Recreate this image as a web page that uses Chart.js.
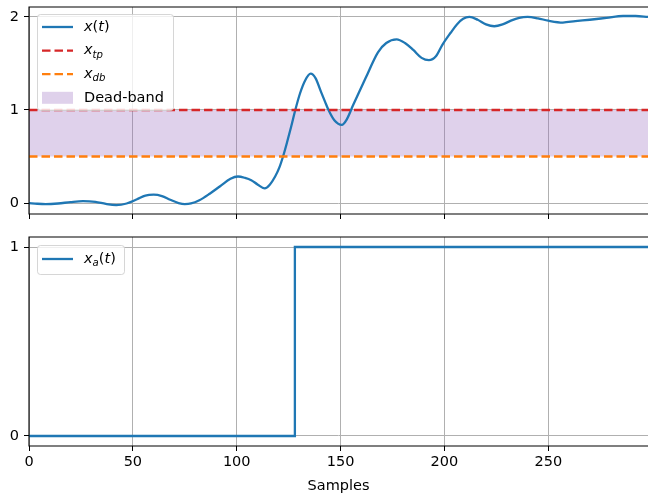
<!DOCTYPE html>
<html>
<head>
<meta charset="utf-8">
<script src="https://cdn.jsdelivr.net/npm/chart.js@4"></script>
<style>
  body { margin: 0; background: #fff; }
  .panel { position: absolute; left: 0; width: 648px; }
  #top-panel { top: 0; height: 230px; }
  #bottom-panel { top: 230px; height: 269px; }
</style>
</head>
<body>
<div class="panel" id="top-panel"><canvas id="top-chart" width="648" height="230"></canvas></div>
<div class="panel" id="bottom-panel"><canvas id="bottom-chart" width="648" height="269"></canvas></div>
<script>
// Data
const xMax = 298;
const sampleTicks = [0, 50, 100, 150, 200, 250];
const topYTicks = [0, 1, 2];
const bottomYTicks = [0, 1];

const xtSamples = [0, 4, 8, 14, 20, 26, 32, 37, 42, 47, 52, 56, 60, 64, 68, 72, 75, 78, 82, 87,
    92, 97, 100.6, 104, 107, 110, 113.5, 116, 118.5, 120.5, 122.3, 124.2, 126.2, 128.2, 130.5, 133, 135.6, 138, 140.5, 142.5,
    144.2, 147, 150.6, 153, 156, 162, 168, 172, 177, 181, 185, 189, 192.5, 196, 199, 203, 206, 209, 212, 216,
    220, 224, 228, 232, 236, 240, 245, 250, 257, 263, 270, 278, 286, 292, 298];
const xtValues = [0.0, -0.008, -0.012, -0.005, 0.01, 0.02, 0.012, -0.01, -0.022, -0.005, 0.04, 0.08, 0.09, 0.075, 0.035, 0.0, -0.012, -0.005, 0.03, 0.10,
    0.18, 0.26, 0.285, 0.27, 0.245, 0.2, 0.158, 0.2, 0.285, 0.38, 0.5, 0.65, 0.82, 1.0, 1.18, 1.32, 1.39, 1.34, 1.2, 1.09,
    1.0, 0.89, 0.84, 0.9, 1.05, 1.34, 1.62, 1.72, 1.76, 1.72, 1.645, 1.56, 1.535, 1.58, 1.70, 1.83, 1.92, 1.98, 2.0, 1.97,
    1.92, 1.90, 1.92, 1.96, 1.99, 2.0, 1.985, 1.96, 1.94, 1.955, 1.97, 1.99, 2.01, 2.01, 2.0];

const xTp = 1.0;   // threshold
const xDb = 0.5;   // dead-band lower edge

const xaSamples = [0, 128, xMax];
const xaValues = [0, 1, 1];

// Legend labels as pieces (it = italic, sub = subscript)
const topLegendLabels = [
    [{ t: 'x', it: true }, { t: '(' }, { t: 't', it: true }, { t: ')' }],
    [{ t: 'x', it: true }, { t: 'tp', it: true, sub: true }],
    [{ t: 'x', it: true }, { t: 'db', it: true, sub: true }],
    [{ t: 'Dead-band' }]
];
const bottomLegendLabels = [
    [{ t: 'x', it: true }, { t: 'a', it: true, sub: true }, { t: '(' }, { t: 't', it: true }, { t: ')' }]
];

const BLUE = '#1f77b4';
const RED = '#d62728';
const ORANGE = '#ff7f0e';
const BAND = 'rgba(148, 103, 189, 0.3)';
const GRID = '#b0b0b0';
const FONT = '"DejaVu Sans", sans-serif';
const FS = 14.5;
const LW = 2.3;
const DASH = [8.5, 4];

const pts = (xs, ys) => xs.map((x, i) => ({ x, y: ys[i] }));
const flat = (v) => [{ x: 0, y: v }, { x: xMax, y: v }];

function drawRich(ctx, x, y, parts) {
    parts.forEach(p => {
        const size = p.sub ? FS * 0.7 : FS;
        ctx.font = (p.it ? 'italic ' : '') + size + 'px ' + FONT;
        ctx.fillText(p.t, x, y + (p.sub ? FS * 0.3 : 0));
        x += ctx.measureText(p.t).width;
    });
}

// matplotlib-like frame (top, left, bottom spines) and legend box
const mplDecor = {
    id: 'mplDecor',
    afterDatasetsDraw(chart) {
        const { ctx, chartArea: a } = chart;
        ctx.save();
        ctx.strokeStyle = '#000';
        ctx.lineWidth = 1.1;
        ctx.beginPath();
        ctx.moveTo(a.right, a.top);
        ctx.lineTo(a.left, a.top);
        ctx.lineTo(a.left, a.bottom);
        ctx.lineTo(a.right, a.bottom);
        ctx.stroke();
        ctx.restore();
    },
    afterDraw(chart, args, opts) {
        const { ctx } = chart;
        const b = opts.box;
        ctx.save();
        ctx.beginPath();
        ctx.roundRect(b.x + 0.5, b.y + 0.5, b.w, b.h, 3);
        ctx.fillStyle = 'rgba(255,255,255,0.8)';
        ctx.fill();
        ctx.strokeStyle = 'rgba(204,204,204,0.8)';
        ctx.lineWidth = 1;
        ctx.stroke();

        opts.items.forEach((item, i) => {
            const y = b.y + opts.firstRow + i * opts.rowGap;
            const hx = b.x + 5;
            const hw = 31;
            if (item.kind === 'patch') {
                ctx.fillStyle = item.color;
                ctx.fillRect(hx, y - 6, hw, 12);
            } else {
                ctx.strokeStyle = item.color;
                ctx.lineWidth = LW;
                ctx.setLineDash(item.dash || []);
                ctx.beginPath();
                ctx.moveTo(hx, y);
                ctx.lineTo(hx + hw, y);
                ctx.stroke();
                ctx.setLineDash([]);
            }
            ctx.fillStyle = '#000';
            ctx.textBaseline = 'middle';
            ctx.textAlign = 'left';
            drawRich(ctx, hx + hw + 11, y, item.label);
        });
        ctx.restore();
    }
};

function xScale(showLabels, height) {
    return {
        type: 'linear',
        min: 0,
        max: xMax,
        afterBuildTicks: (s) => { s.ticks = sampleTicks.map(v => ({ value: v })); },
        afterFit: (s) => {
            s.height = height;
            s.paddingLeft = 0;
            s.paddingRight = 0;
        },
        grid: { color: GRID, lineWidth: 1, tickColor: '#000', tickLength: 5 },
        border: { display: false },
        ticks: { display: showLabels, color: '#000', font: { family: FONT, size: FS }, padding: 3, maxRotation: 0 },
        title: {
            display: showLabels,
            text: 'Samples',
            color: '#000',
            font: { family: FONT, size: FS },
            padding: { top: 0, bottom: 4 }
        }
    };
}

function yScale(min, max, tickVals) {
    return {
        type: 'linear',
        min,
        max,
        afterBuildTicks: (s) => { s.ticks = tickVals.map(v => ({ value: v })); },
        afterFit: (s) => {
            s.width = 29;
            s.paddingTop = 0;
            s.paddingBottom = 0;
        },
        grid: { color: GRID, lineWidth: 1, tickColor: '#000', tickLength: 5 },
        border: { display: false },
        ticks: { color: '#000', font: { family: FONT, size: FS }, padding: 5 }
    };
}

const common = {
    responsive: false,
    animation: false,
    devicePixelRatio: 1,
    layout: { padding: { top: 7, left: 0, right: 0, bottom: 0 } },
    elements: { point: { radius: 0 } }
};

// Top panel: x(t) with threshold lines and dead-band
new Chart(document.getElementById('top-chart'), {
    type: 'line',
    data: {
        datasets: [
            { label: 'Dead-band', data: flat(xTp), borderWidth: 0, backgroundColor: BAND, fill: { value: xDb }, order: 4 },
            { label: 'x(t)', data: pts(xtSamples, xtValues), borderColor: BLUE, borderWidth: LW, cubicInterpolationMode: 'monotone', fill: false, order: 3 },
            { label: 'x_tp', data: flat(xTp), borderColor: RED, borderWidth: LW, borderDash: DASH, fill: false, order: 2 },
            { label: 'x_db', data: flat(xDb), borderColor: ORANGE, borderWidth: LW, borderDash: DASH, fill: false, order: 1 }
        ]
    },
    options: {
        ...common,
        scales: {
            x: xScale(false, 16),
            y: yScale(-0.118, 2.107, topYTicks)
        },
        plugins: {
            legend: { display: false },
            tooltip: { enabled: false },
            filler: { drawTime: 'beforeDatasetsDraw' },
            mplDecor: {
                box: { x: 37, y: 14, w: 136, h: 96 },
                firstRow: 13,
                rowGap: 23.6,
                items: [
                    { kind: 'line', color: BLUE, label: topLegendLabels[0] },
                    { kind: 'line', color: RED, dash: DASH, label: topLegendLabels[1] },
                    { kind: 'line', color: ORANGE, dash: DASH, label: topLegendLabels[2] },
                    { kind: 'patch', color: BAND, label: topLegendLabels[3] }
                ]
            }
        }
    },
    plugins: [mplDecor]
});

// Bottom panel: x_a(t) step
new Chart(document.getElementById('bottom-chart'), {
    type: 'line',
    data: {
        datasets: [
            { label: 'x_a(t)', data: pts(xaSamples, xaValues), borderColor: BLUE, borderWidth: LW, stepped: 'before', fill: false }
        ]
    },
    options: {
        ...common,
        scales: {
            x: xScale(true, 53),
            y: yScale(-0.053, 1.053, bottomYTicks)
        },
        plugins: {
            legend: { display: false },
            tooltip: { enabled: false },
            mplDecor: {
                box: { x: 37, y: 15, w: 87, h: 29 },
                firstRow: 14,
                rowGap: 24,
                items: [
                    { kind: 'line', color: BLUE, label: bottomLegendLabels[0] }
                ]
            }
        }
    },
    plugins: [mplDecor]
});
</script>
</body>
</html>
